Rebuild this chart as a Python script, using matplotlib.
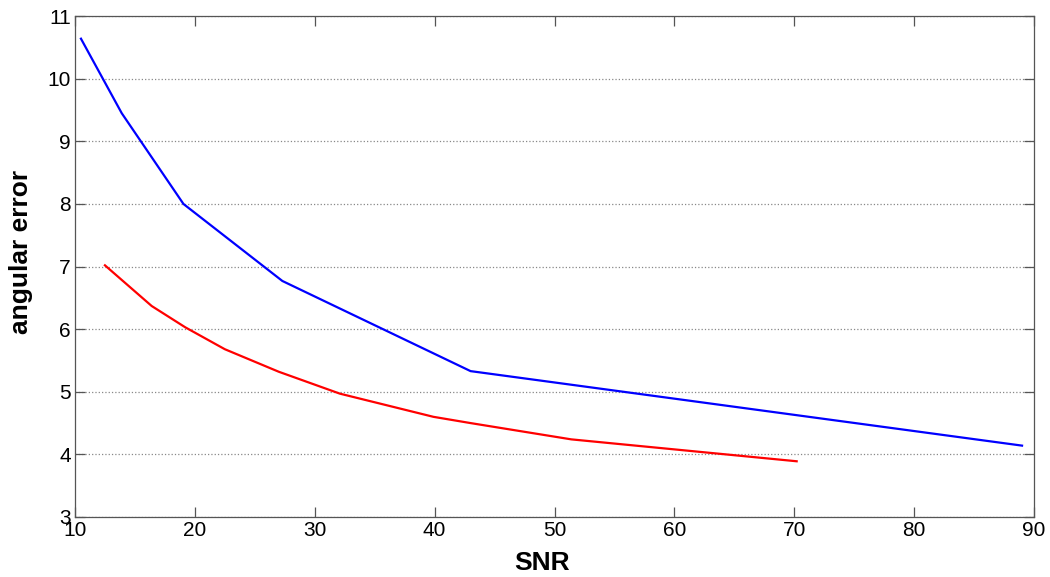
import matplotlib
matplotlib.use('Agg')
import matplotlib.pyplot as plt

# values
snr_blue = [10.5, 13.9, 19.05, 27.3, 43.0, 89.0]
err_blue = [10.64, 9.45, 8.0, 6.77, 5.33, 4.14]

snr_red = [12.5, 16.4, 19.2, 22.5, 27.0, 32.1, 39.9, 43.0, 51.4, 70.2]
err_red = [7.02, 6.37, 6.03, 5.68, 5.32, 4.97, 4.60, 4.50, 4.24, 3.89]

xticks = [10, 20, 30, 40, 50, 60, 70, 80, 90]
yticks = [3, 4, 5, 6, 7, 8, 9, 10, 11]

plt.rcParams['font.family'] = ['Liberation Sans', 'DejaVu Sans']

fig = plt.figure(figsize=(10.5, 5.77), dpi=100)
ax = fig.add_axes([0.0714, 0.104, 0.9134, 0.868])

ax.plot(snr_blue, err_blue, color='#0000ff', linewidth=1.6)
ax.plot(snr_red, err_red, color='#ff0000', linewidth=1.6)

ax.set_xlim(10, 90)
ax.set_ylim(3, 11)
ax.set_xticks(xticks)
ax.set_yticks(yticks)
ax.yaxis.grid(True, linestyle=':', color='#888888', linewidth=0.9)
ax.tick_params(direction='in', length=7, width=0.9, color='#555555',
               top=True, right=True, labelsize=15, pad=3)
for s in ax.spines.values():
    s.set_color('#555555')
    s.set_linewidth(0.9)

ax.set_xlabel('SNR', fontsize=19, fontweight='bold')
ax.set_ylabel('angular error', fontsize=19, fontweight='bold')
ax.xaxis.set_label_coords(0.487, -0.068)
ax.yaxis.set_label_coords(-0.044, 0.529)

fig.savefig('out.png', dpi=100)
